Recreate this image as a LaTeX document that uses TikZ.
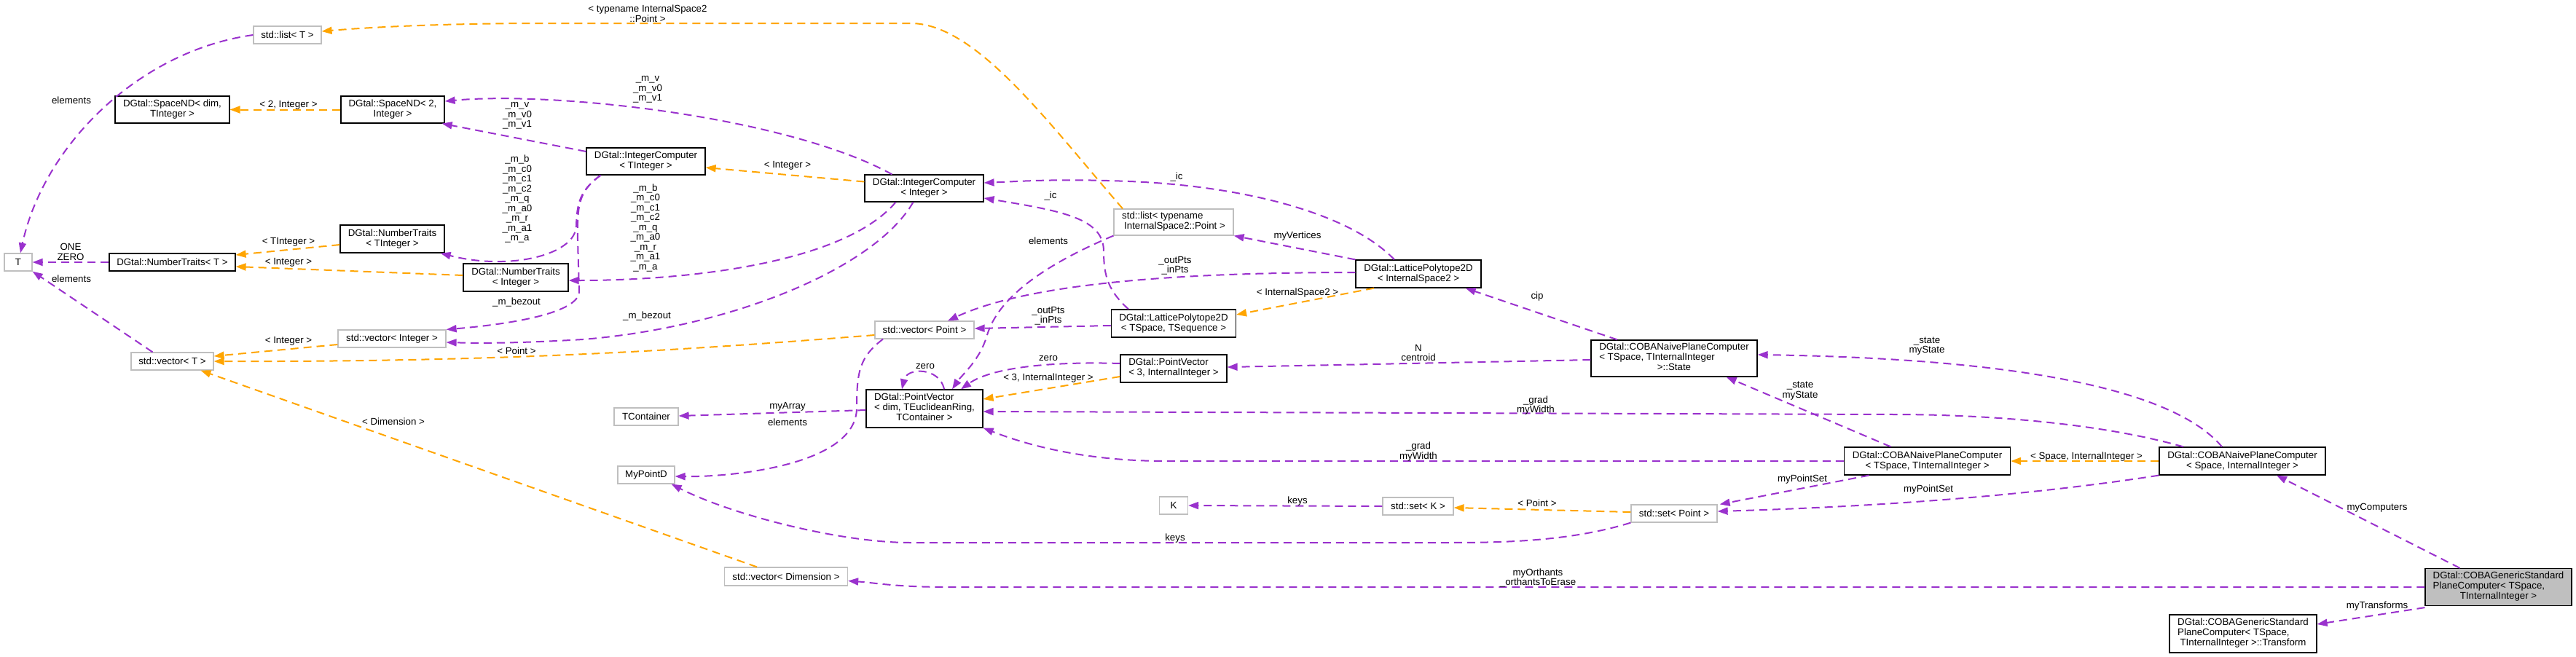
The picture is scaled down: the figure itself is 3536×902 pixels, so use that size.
\documentclass[tikz,border=0pt]{standalone}
\usepackage{fontspec}
\setmainfont{Liberation Sans}
\usepackage{xcolor}
\usepackage{tikz}
\usetikzlibrary{arrows.meta, calc}

\definecolor{mbrpurple}{HTML}{9A32CD}
\definecolor{tplorange}{HTML}{FFA500}
\definecolor{extgray}{HTML}{BFBFBF}

\newcommand{\lastc}[1]{\multicolumn{1}{@{}c@{}}{#1}}
\newcommand{\mbcoefs}{\_m\_b\\\_m\_c0\\\_m\_c1\\\_m\_c2\\\_m\_q\\\_m\_a0\\\_m\_r\\\_m\_a1\\\_m\_a}

\begin{document}
\begin{tikzpicture}[x=1pt, y=-1pt, >={Triangle[length=14pt, width=10pt]},
    font=\fontsize{13.3}{14}\selectfont,
    cls/.style={draw=black, line width=1.2pt, fill=white, inner sep=2pt, align=center},
    ext/.style={draw=extgray, line width=1.2pt, fill=white, inner sep=2pt, align=center},
    mbr/.style={->, draw=mbrpurple, line width=2pt, dash pattern=on 11pt off 7pt},
    tpl/.style={mbr, draw=tplorange},
    lbl/.style={inner sep=0pt, align=center, font=\fontsize{13.3}{13.5}\selectfont}]

    \useasboundingbox (0,0) rectangle (3536,902);

    % =================================================================
    % 1. CLASS BOXES
    % =================================================================
    % left column
    \node[ext, minimum width=38pt, minimum height=24pt] (tT) at (25,360) {T};
    \node[ext, minimum width=93pt, minimum height=24pt] (lstT) at (394.5,48) {std::list< T >};
    \node[cls, minimum width=157pt, minimum height=37pt] (spcD) at (236.5,150.5) {DGtal::SpaceND< dim,\\TInteger >};
    \node[cls, minimum width=142pt, minimum height=37pt] (spc2) at (539,150.5) {DGtal::SpaceND< 2,\\Integer >};
    \node[cls, minimum width=173pt, minimum height=24pt] (ntT) at (236.5,360) {DGtal::NumberTraits< T >};
    \node[cls, minimum width=143pt, minimum height=38pt] (ntTI) at (538.5,328) {DGtal::NumberTraits\\< TInteger >};
    \node[cls, minimum width=144pt, minimum height=38pt] (ntI) at (708,381) {DGtal::NumberTraits\\< Integer >};
    \node[ext, minimum width=113pt, minimum height=24pt] (vecT) at (236.5,496) {std::vector< T >};
    \node[ext, minimum width=148pt, minimum height=24pt] (vecI) at (538,465) {std::vector< Integer >};

    % middle
    \node[cls, minimum width=163pt, minimum height=37pt] (icTI) at (886.5,221.5) {DGtal::IntegerComputer\\< TInteger >};
    \node[cls, minimum width=163pt, minimum height=37pt] (icI) at (1268.5,258.5) {DGtal::IntegerComputer\\< Integer >};
    \node[ext, minimum width=88pt, minimum height=24pt] (tcont) at (887,572) {TContainer};
    \node[ext, minimum width=78pt, minimum height=24pt] (mypd) at (887,652) {MyPointD};
    \node[ext, minimum width=169pt, minimum height=25pt] (vecDim) at (1079,791.5) {std::vector< Dimension >};
    \node[ext, minimum width=136pt, minimum height=24pt] (vecP) at (1269,453) {std::vector< Point >};
    \node[cls, minimum width=160pt, minimum height=52pt] (pvD) at (1269,561)
        {\begin{tabular}{@{}l@{}}DGtal::PointVector\\< dim, TEuclideanRing,\\\lastc{TContainer >}\end{tabular}};
    \node[ext, minimum width=164pt, minimum height=36pt] (lstP) at (1611,305)
        {\begin{tabular}{@{}l@{}}std::list< typename\\\hspace*{3pt}InternalSpace2::Point >\end{tabular}};
    \node[cls, minimum width=171pt, minimum height=38pt] (lpTS) at (1611,444) {DGtal::LatticePolytope2D\\< TSpace, TSequence >};
    \node[cls, minimum width=146pt, minimum height=38pt] (pv3) at (1611,506)
        {\begin{tabular}{@{}l@{}}DGtal::PointVector\\< 3, InternalInteger >\end{tabular}};
    \node[ext, minimum width=39pt, minimum height=24pt] (kk) at (1611,694) {K};
    \node[cls, minimum width=172pt, minimum height=38pt] (lpIS) at (1947,376) {DGtal::LatticePolytope2D\\< InternalSpace2 >};
    \node[ext, minimum width=97pt, minimum height=24pt] (setK) at (1946.5,695) {std::set< K >};
    \node[ext, minimum width=118pt, minimum height=24pt] (setP) at (2298,705) {std::set< Point >};

    % right part
    \node[cls, minimum width=228pt, minimum height=50pt] (state) at (2298,492)
        {\begin{tabular}{@{}l@{}}DGtal::COBANaivePlaneComputer\\< TSpace, TInternalInteger\\\lastc{>::State}\end{tabular}};
    \node[cls, minimum width=228pt, minimum height=38pt] (cobaT) at (2645.5,633) {DGtal::COBANaivePlaneComputer\\< TSpace, TInternalInteger >};
    \node[cls, minimum width=228pt, minimum height=38pt] (cobaS) at (3078,633) {DGtal::COBANaivePlaneComputer\\< Space, InternalInteger >};
    \node[cls, fill=extgray, minimum width=201pt, minimum height=51pt] (gen) at (3429.5,806)
        {\begin{tabular}{@{}l@{}}DGtal::COBAGenericStandard\\PlaneComputer< TSpace,\\\lastc{TInternalInteger >}\end{tabular}};
    \node[cls, minimum width=202pt, minimum height=52pt] (trf) at (3079,870)
        {\begin{tabular}{@{}l@{}}DGtal::COBAGenericStandard\\PlaneComputer< TSpace,\\\lastc{TInternalInteger >::Transform}\end{tabular}};

    % =================================================================
    % 2. LEFT PART: T, NUMBER TRAITS, CONTAINERS
    % =================================================================
    \draw[mbr] (lstT.west) .. controls (190,70) and (60,200) .. ([xshift=3pt]tT.north);
    \draw[mbr] ([xshift=-27pt]vecT.north) -- (tT.south east);
    \draw[mbr] (ntT.west) -- (tT.east);
    \draw[tpl] (spc2.west) -- (spcD.east);
    \draw[tpl] ([yshift=-8pt]ntTI.west) -- ([yshift=10pt]ntT.east);
    \draw[tpl] ([yshift=3pt]ntI.west) -- ([yshift=-6pt]ntT.east);
    \draw[tpl] ([yshift=-8pt]vecI.west) -- ([yshift=7pt]vecT.east);
    \draw[tpl] ([yshift=-7pt]vecP.west) .. controls (950,480) and (700,497) .. (vecT.east);
    \draw[tpl] ([xshift=-40pt]vecDim.north) -- ([xshift=39pt]vecT.south);
    \draw[tpl] ([xshift=-70pt]lstP.north) .. controls (1440,170) and (1340,32) .. (1250,32)
        -- (750,32) .. controls (600,32) and (500,38) .. ([yshift=5pt]lstT.east);

    % =================================================================
    % 3. INTEGER COMPUTERS
    % =================================================================
    \draw[tpl] ([yshift=9pt]icI.west) -- ([yshift=-8.5pt]icTI.east);
    \draw[mbr] ([xshift=-44pt]icI.north) .. controls (1080,160) and (760,125) .. ([yshift=11.5pt]spc2.east);
    \draw[mbr] ([yshift=13.5pt]icTI.west) -- ([xshift=-4pt]spc2.south east);
    \draw[mbr] ([xshift=-62pt]icTI.south) .. controls (795,262) and (792,280) .. (791,310)
        .. controls (790,350) and (700,372) .. ([xshift=-6pt]ntTI.south east);
    \draw[mbr] ([xshift=-62pt]icTI.south) .. controls (795,262) and (792,280) .. (793,330)
        -- (795,400) .. controls (795,430) and (700,445) .. (vecI.north east);
    \draw[mbr] ([xshift=-15pt]icI.south) .. controls (1200,370) and (1000,450) .. (800,466)
        .. controls (700,472) and (650,471) .. ([yshift=-5pt]vecI.east);
    \draw[mbr] ([xshift=-39pt]icI.south) .. controls (1160,360) and (950,385) .. ([yshift=-4pt]ntI.east);

    % =================================================================
    % 4. POINT VECTORS AND POLYTOPES
    % =================================================================
    \draw[mbr] ([xshift=27pt]pvD.north) .. controls (1290,504) and (1245,504) .. ([xshift=-31pt]pvD.north);
    \draw[mbr] ([yshift=7pt]pv3.west) .. controls (1440,496) and (1360,505) .. ([xshift=50pt]pvD.north);
    \draw[tpl] ([yshift=-11pt]pv3.west) -- ([yshift=13pt]pvD.east);
    \draw[mbr] (lstP.south west) .. controls (1430,365) and (1370,410) .. (1355,460)
        .. controls (1345,495) and (1320,515) .. ([xshift=38pt]pvD.north);
    \draw[mbr] ([xshift=-62pt]lpTS.north) .. controls (1522,400) and (1515,380) .. (1515,345)
        .. controls (1515,300) and (1460,290) .. ([yshift=-13.5pt]icI.east);
    \draw[mbr] ([xshift=-33pt]lpIS.north) .. controls (1850,290) and (1700,255) .. (1550,249)
        .. controls (1450,245) and (1400,249) .. ([yshift=7.5pt]icI.east);
    \draw[mbr] (lpIS.north west) -- (lstP.south east);
    \draw[mbr] ([yshift=2pt]lpIS.west) .. controls (1650,374) and (1420,385) .. ([xshift=32pt]vecP.north);
    \draw[mbr] ([yshift=-3pt]lpTS.west) -- ([yshift=2pt]vecP.east);
    \draw[tpl] ([xshift=-61pt]lpIS.south) -- ([yshift=12pt]lpTS.east);
    \draw[mbr] ([xshift=-57pt]vecP.south) .. controls (1180,490) and (1176,510) .. (1176,560)
        .. controls (1176,640) and (1000,655) .. ([yshift=-2pt]mypd.east);
    \draw[mbr] ([yshift=-2pt]pvD.west) -- ([yshift=1pt]tcont.east);

    % =================================================================
    % 5. SETS
    % =================================================================
    \draw[mbr] (setP.south west) .. controls (2150,745) and (2050,745) .. (1980,745) -- (1250,745)
        .. controls (1150,745) and (1000,705) .. ([xshift=-5pt]mypd.south east);
    \draw[mbr] (setK.west) -- (kk.east);
    \draw[tpl] ([yshift=2pt]setP.west) -- ([yshift=-2pt]setK.east);

    % =================================================================
    % 6. PLANE COMPUTERS
    % =================================================================
    \draw[mbr] ([xshift=-78pt]state.north) -- ([xshift=-22pt]lpIS.south east);
    \draw[mbr] ([yshift=-2pt]state.west) -- ([yshift=2pt]pv3.east);
    \draw[mbr] (cobaT.west) -- (1600,633) .. controls (1500,633) and (1420,615) .. (pvD.south east);
    \draw[mbr] ([xshift=-81pt]cobaS.north) .. controls (2880,580) and (2720,569) .. (2600,569)
        -- ([yshift=-4pt]pvD.east);
    \draw[mbr] ([xshift=-50pt]cobaT.north) -- ([xshift=-43pt]state.south east);
    \draw[mbr] ([xshift=-28pt]cobaS.north) .. controls (2980,530) and (2750,492) .. ([yshift=5pt]state.east);
    \draw[tpl] (cobaS.west) -- (cobaT.east);
    \draw[mbr] ([xshift=-80pt]cobaT.south) -- ([xshift=3pt]setP.north east);
    \draw[mbr] (cobaS.south west) .. controls (2800,678) and (2600,695) .. ([yshift=3pt]setP.east);
    \draw[mbr] ([xshift=-53pt]gen.north) -- ([xshift=47pt]cobaS.south);
    \draw[mbr] (gen.west) -- (1300,806) .. controls (1230,806) and (1200,800) .. ([yshift=-6pt]vecDim.east);
    \draw[mbr] ([yshift=-2pt]gen.south west) -- ([yshift=13pt]trf.east);

    % =================================================================
    % 7. EDGE LABELS
    % =================================================================
    \node[lbl] (lElemList) at (98,138) {elements};
    \node[lbl] (lElemVec) at (98,383) {elements};
    \node[lbl] (lOneZero) at (97,346) {ONE\\ZERO};
    \node[lbl] (lTwoInt) at (396,144) {< 2, Integer >};
    \node[lbl] (lTInt) at (396,332) {< TInteger >};
    \node[lbl] (lIntNT) at (396,360) {< Integer >};
    \node[lbl] (lIntVec) at (396,468) {< Integer >};
    \node[lbl] (lPointVec) at (709,482) {< Point >};
    \node[lbl] (lDim) at (540,579) {< Dimension >};
    \node[lbl] (lTypename) at (889,18.5) {< typename InternalSpace2\\::Point >};
    \node[lbl] (lIntIC) at (1081,227) {< Integer >};
    \node[lbl] (lMvA) at (889,123) {\_m\_v\\\_m\_v0\\\_m\_v1};
    \node[lbl] (lMvB) at (710,159) {\_m\_v\\\_m\_v0\\\_m\_v1};
    \node[lbl] (lMbA) at (710,273) {\mbcoefs};
    \node[lbl] (lMbB) at (886,312.5) {\mbcoefs};
    \node[lbl] (lBezA) at (709,415) {\_m\_bezout};
    \node[lbl] (lBezB) at (888,434) {\_m\_bezout};
    \node[lbl] (lZeroSelf) at (1270,503) {zero};
    \node[lbl] (lZeroThree) at (1439,492) {zero};
    \node[lbl] (lThreeInt) at (1439,519) {< 3, InternalInteger >};
    \node[lbl] (lElemPts) at (1439,331) {elements};
    \node[lbl] (lIcA) at (1442,269) {\_ic};
    \node[lbl] (lIcB) at (1615,243) {\_ic};
    \node[lbl] (lVerts) at (1781,324) {myVertices};
    \node[lbl] (lPtsA) at (1613,364.5) {\_outPts\\\_inPts};
    \node[lbl] (lPtsB) at (1439,433.5) {\_outPts\\\_inPts};
    \node[lbl] (lIntSpace) at (1781,402) {< InternalSpace2 >};
    \node[lbl] (lElemMy) at (1081,580) {elements};
    \node[lbl] (lArray) at (1081,558) {myArray};
    \node[lbl] (lKeysMy) at (1613,739) {keys};
    \node[lbl] (lKeysK) at (1781,688) {keys};
    \node[lbl] (lPointSet) at (2110,691) {< Point >};
    \node[lbl] (lCip) at (2110,407) {cip};
    \node[lbl] (lCentroid) at (1947,484.5) {N\\centroid};
    \node[lbl] (lGradA) at (1947,620) {\_grad\\myWidth};
    \node[lbl] (lGradB) at (2108,556.5) {\_grad\\myWidth};
    \node[lbl] (lStateA) at (2471,536.5) {\_state\\myState};
    \node[lbl] (lStateB) at (2645,475) {\_state\\myState};
    \node[lbl] (lSpaceII) at (2864,627) {< Space, InternalInteger >};
    \node[lbl] (lPSetA) at (2474,658) {myPointSet};
    \node[lbl] (lPSetB) at (2647,672) {myPointSet};
    \node[lbl] (lComps) at (3263,697) {myComputers};
    \node[lbl] (lOrth) at (2111,793.5) {myOrthants\\\_orthantsToErase};
    \node[lbl] (lTransf) at (3263,832) {myTransforms};

\end{tikzpicture}
\end{document}
